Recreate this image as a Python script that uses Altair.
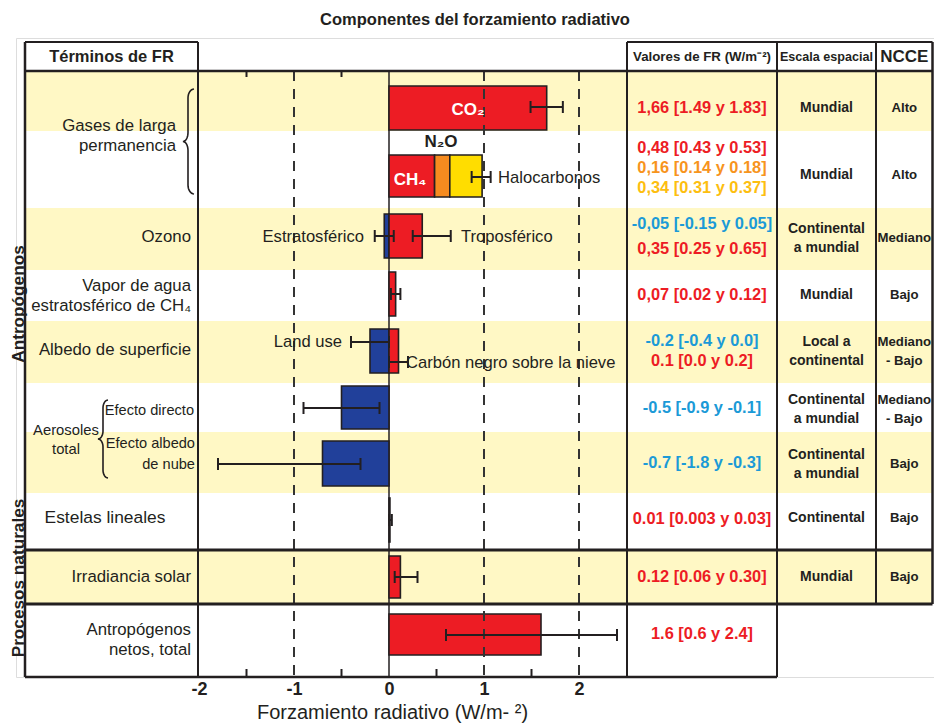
import math
import altair as alt
import pandas as pd

# ------------------------------------------------------------------ data
TITLE = "Componentes del forzamiento radiativo"
X_TITLE = "Forzamiento radiativo (W/m- ²)"
X_TICKS = [-2, -1, 0, 1, 2]
GRID_DASHED = [-1, 1, 2]
MINOR_TICKS_BOTTOM = [-1.5, -0.5, 0.5, 1.5]
MINOR_TICKS_TOP = [-1.5, -0.5]

HEADERS = ["Términos de FR", "Valores de FR (W/m⁻²)", "Escala espacial", "NCCE"]
GROUP_LABELS = ["Antropógenos", "Procesos naturales"]
TERMS = ["Gases de larga\npermanencia", "Ozono", "Vapor de agua\nestratosférico de CH₄",
         "Albedo de superficie", "Efecto directo", "Efecto albedo\nde nube",
         "Estelas lineales", "Irradiancia solar", "Antropógenos\nnetos, total"]
AEROSOL_LABEL = "Aerosoles\ntotal"

# bars (W/m2)
BAR_NAMES = ["CO₂", "CH₄", "N₂O", "Halocarbonos", "Estratosférico", "Troposférico",
             "Vapor de agua", "Land use", "Carbón negro sobre la nieve", "Efecto directo",
             "Efecto albedo de nube", "Estelas lineales", "Irradiancia solar", "Total neto"]
BAR_VALUES = [1.66, 0.48, 0.16, 0.34, -0.05, 0.35, 0.07, -0.2, 0.1, -0.5, -0.7, 0.01, 0.12, 1.6]
BAR_ROW = [1, 2, 2, 2, 3, 3, 4, 5, 5, 6, 7, 8, 9, 10]
BAR_KIND = ["red", "red", "orange", "yellow", "blue", "red", "red", "blue", "red", "blue",
            "blue", "red", "red", "red"]

# uncertainty ranges (W/m2)
ERR_NAMES = ["CO₂", "CH₄+N₂O+Halocarbonos", "Estratosférico", "Troposférico", "Vapor de agua",
             "Land use", "Carbón negro", "Efecto directo", "Efecto albedo de nube",
             "Estelas lineales", "Irradiancia solar", "Total neto"]
ERR_LOW = [1.49, 0.87, -0.15, 0.25, 0.02, -0.4, 0.0, -0.9, -1.8, 0.003, 0.06, 0.6]
ERR_HIGH = [1.83, 1.07, 0.05, 0.65, 0.12, 0.0, 0.2, -0.1, -0.3, 0.03, 0.30, 2.4]

# bar annotations
BAR_ANNOT_WHITE = ["CO₂", "CH₄"]
BAR_ANNOT_BOLD = ["N₂O"]
BAR_ANNOT_SIDE = ["Halocarbonos", "Estratosférico", "Troposférico", "Land use",
                  "Carbón negro sobre la nieve"]

# table columns
VALUE_TEXTS = [
    ["1,66 [1.49 y 1.83]"],
    ["0,48 [0.43 y 0.53]", "0,16 [0.14 y 0.18]", "0,34 [0.31 y 0.37]"],
    ["-0,05 [-0.15 y 0.05]", "0,35 [0.25 y 0.65]"],
    ["0,07 [0.02 y 0.12]"],
    ["-0.2 [-0.4 y 0.0]", "0.1 [0.0 y  0.2]"],
    ["-0.5 [-0.9 y -0.1]"],
    ["-0.7 [-1.8 y  -0.3]"],
    ["0.01 [0.003 y 0.03]"],
    ["0.12 [0.06 y 0.30]"],
    ["1.6 [0.6 y  2.4]"],
]
VALUE_KIND = [["red"], ["red", "orange", "gold"], ["blue", "red"], ["red"], ["blue", "red"],
              ["blue"], ["blue"], ["red"], ["red"], ["red"]]
SCALE_TEXTS = ["Mundial", "Mundial", "Continental\na mundial", "Mundial", "Local a\ncontinental",
               "Continental\na mundial", "Continental\na mundial", "Continental", "Mundial"]
NCCE_TEXTS = ["Alto", "Alto", "Mediano", "Bajo", "Mediano\n- Bajo", "Mediano\n- Bajo",
              "Bajo", "Bajo", "Bajo"]

# ------------------------------------------------------------------ styles / layout
BAR_FILL = {"red": "#ED1C24", "orange": "#F68B1F", "yellow": "#FFDD00", "blue": "#21409A"}
TXT_COL = {"red": "#ED1C24", "orange": "#F7941D", "gold": "#FDBE10", "blue": "#1B9AD7"}
INK = "#231F20"
BAND = "#FFF8C5"
FONT = "Liberation Sans"

PX0, PPU = 389.0, 95.0          # page pixel of 0 W/m2, pixels per W/m2
LEFT_PAD = 8
RIGHT_PX = 934                  # right edge of the drawing (page pixels)


def X(px):
    return (px - PX0) / PPU


XMIN, XMAX = X(8 + LEFT_PAD), X(RIGHT_PX)
YTOP, YBOT = 38, 677
W, H = RIGHT_PX - (8 + LEFT_PAD), YBOT - YTOP

# table column borders (page px)
C_LEFT, C_TERMS, C_PLOT_R, C_VAL_R, C_SCALE_R, C_RIGHT = 25, 198, 627, 777, 876, 932.5

ROWS = [(71, 131), (131, 208), (208, 270), (270, 321), (321, 383), (383, 432),
        (432, 493), (493, 550), (550, 604), (604, 677)]
YELLOW_ROWS = [1, 3, 5, 7, 9]
BAR_SPAN = {1: (86, 130), 2: (155, 197), 3: (214, 258), 4: (272, 316), 5: (329, 373),
            6: (386, 429), 7: (441, 486), 8: (498, 542), 9: (556, 598), 10: (614, 655)}
ERR_Y = [107, 177, 236, 236, 294, 342, 362, 408, 464, 520, 577, 635]
# (x, y, align, font size, line height)
TERM_POS = [(176, 136, "right", 16.8, 20), (191, 237, "right", 16.8, 20),
            (191, 296, "right", 16.8, 20), (191, 350, "right", 16.8, 20),
            (194, 411, "right", 14.6, 21), (195, 454, "right", 14.6, 21),
            (105, 518, "center", 17.4, 20), (191, 577, "right", 16.8, 20),
            (191, 640, "right", 16.8, 20)]
AEROSOL_POS = (66, 440, 14.8, 19)
VALUE_Y = [[108], [148, 168, 188], [224, 249], [295], [341, 361], [408], [463], [519],
           [577], [634]]
TABLE_Y = [108, 175, 238, 295, 351, 409, 464, 518, 577]
COL_X = {"terms": (C_LEFT + C_TERMS) / 2, "values": (C_PLOT_R + C_VAL_R) / 2,
         "scale": (C_VAL_R + C_SCALE_R) / 2, "ncce": (C_SCALE_R + C_RIGHT) / 2}
ANNOT_POS = {"CO₂": (468, 110, "center"), "CH₄": (410, 180, "center"),
             "N₂O": (441, 142, "center"), "Halocarbonos": (498, 178, "left"),
             "Estratosférico": (364, 237, "right"), "Troposférico": (461, 237, "left"),
             "Land use": (342, 342, "right"), "Carbón negro sobre la nieve": (406, 363, "left")}

xs = alt.Scale(domain=[XMIN, XMAX], nice=False, zero=False)
ys = alt.Scale(domain=[YTOP, YBOT], reverse=True, nice=False, zero=False)
xaxis = alt.Axis(values=X_TICKS, labelExpr="'' + datum.value", title=X_TITLE, ticks=False,
                 domain=False, grid=False, labelFontSize=18, labelFontWeight="bold",
                 labelColor=INK, labelPadding=3, labelFlush=False, titleFontSize=20,
                 titleFontWeight="normal", titleColor=INK, titleX=392 - (8 + LEFT_PAD),
                 titleY=35, titleBaseline="middle", titleAlign="center")


def ex(f):
    return alt.X(f"{f}:Q", scale=xs, axis=xaxis)


def ey(f):
    return alt.Y(f"{f}:Q", scale=ys, axis=None)


def first_y(text, center, lh):
    n = text.count("\n") + 1
    return center - (n - 1) * lh / 2


layers = []

# yellow bands
bands = pd.DataFrame([{"x0": X(C_LEFT), "x1": X(C_RIGHT), "y0": ROWS[r - 1][0],
                       "y1": ROWS[r - 1][1]} for r in YELLOW_ROWS])
layers.append(alt.Chart(bands).mark_rect(color=BAND).encode(
    x=ex("x0"), x2="x1", y=ey("y0"), y2="y1"))

# zero line
layers.append(alt.Chart(pd.DataFrame({"v": [0], "y0": [71], "y1": [677]})).mark_rule(
    color=INK, strokeWidth=1.5).encode(x=ex("v"), y=ey("y0"), y2="y1"))

# bars (stacked within each row, positives up from 0, negatives down from 0)
bar_rows = []
pos_acc, neg_acc = {}, {}
for name, v, r, k in zip(BAR_NAMES, BAR_VALUES, BAR_ROW, BAR_KIND):
    if v >= 0:
        s = pos_acc.get(r, 0.0)
        pos_acc[r] = s + v
    else:
        s = neg_acc.get(r, 0.0)
        neg_acc[r] = s + v
    bar_rows.append({"name": name, "start": s, "end": s + v, "fill": BAR_FILL[k],
                     "y0": BAR_SPAN[r][0], "y1": BAR_SPAN[r][1]})
bars = pd.DataFrame(bar_rows)
layers.append(alt.Chart(bars).mark_rect(stroke=INK, strokeWidth=1.6).encode(
    x=ex("start"), x2="end", y=ey("y0"), y2="y1",
    color=alt.Color("fill:N", scale=None), tooltip=["name:N"]))

# dashed grid lines (on top of bars)
layers.append(alt.Chart(pd.DataFrame({"v": GRID_DASHED, "y0": 71, "y1": 677})).mark_rule(
    color="#333333", strokeWidth=2, strokeDash=[10, 8]).encode(x=ex("v"), y=ey("y0"), y2="y1"))

# minor inner ticks
mt = pd.DataFrame([{"v": v, "y0": 669, "y1": 677} for v in MINOR_TICKS_BOTTOM] +
                  [{"v": v, "y0": 71, "y1": 77} for v in MINOR_TICKS_TOP])
layers.append(alt.Chart(mt).mark_rule(color=INK, strokeWidth=2).encode(
    x=ex("v"), y=ey("y0"), y2="y1"))

# error bars
err = pd.DataFrame({"name": ERR_NAMES, "lo": ERR_LOW, "hi": ERR_HIGH, "y": ERR_Y})
layers.append(alt.Chart(err).mark_rule(color=INK, strokeWidth=2).encode(
    x=ex("lo"), x2="hi", y=ey("y")))
caps = pd.DataFrame([{"v": v, "y0": y - 6, "y1": y + 6}
                     for lo, hi, y in zip(ERR_LOW, ERR_HIGH, ERR_Y) for v in (lo, hi)])
layers.append(alt.Chart(caps).mark_rule(color=INK, strokeWidth=2).encode(
    x=ex("v"), y=ey("y0"), y2="y1"))

# table frame
segs = [
    (C_LEFT, C_TERMS, 42, 42, 2), (C_PLOT_R, C_RIGHT, 42, 42, 2), (C_LEFT, C_RIGHT, 71, 71, 2.5),
    (C_LEFT, C_RIGHT, 550, 550, 3), (C_LEFT, C_RIGHT, 604, 604, 3),
    (C_LEFT, C_VAL_R, 677, 677, 2.5),
    (C_LEFT, C_LEFT, 42, 677, 2.5), (C_TERMS, C_TERMS, 42, 677, 2),
    (C_PLOT_R, C_PLOT_R, 42, 677, 2), (C_VAL_R, C_VAL_R, 42, 677, 2),
    (C_SCALE_R, C_SCALE_R, 42, 604, 2), (C_RIGHT, C_RIGHT, 42, 604, 2.5),
]
seg_df = pd.DataFrame([{"x0": X(a), "x1": X(b), "y0": c, "y1": d, "w": w}
                       for a, b, c, d, w in segs])
layers.append(alt.Chart(seg_df).mark_rule(color=INK).encode(
    x=ex("x0"), x2="x1", y=ey("y0"), y2="y1", strokeWidth=alt.StrokeWidth("w:Q", scale=None)))


# braces
def brace(bid, x_end, x_mid, x_tip, y0, y1, r):
    ym = (y0 + y1) / 2
    pts = []
    a1 = x_end - x_mid
    for i in range(9):
        t = math.radians(-90 - 90 * i / 8)
        pts.append((x_end + a1 * math.cos(t), y0 + r + r * math.sin(t)))
    a2 = x_mid - x_tip
    for i in range(9):
        t = math.radians(90 * i / 8)
        pts.append((x_tip + a2 * math.cos(t), ym - r + r * math.sin(t)))
    lower = [(px, 2 * ym - py) for px, py in reversed(pts)]
    pts = pts + lower[1:]
    return [{"b": bid, "i": i, "x": X(px), "y": py} for i, (px, py) in enumerate(pts)]


br = pd.DataFrame(brace("gases", 194, 188, 183, 89, 194, 9) +
                  brace("aer", 108, 103, 98, 400, 478, 8))
layers.append(alt.Chart(br).mark_line(color=INK, strokeWidth=1.6, interpolate="linear").encode(
    x=ex("x"), y=ey("y"), detail="b:N", order="i:Q"))


def text_layer(df, lh=20, **kw):
    df = df.copy()
    df["y"] = [first_y(t, y, lh) for t, y in zip(df["t"], df["y"])]
    base = dict(font=FONT, lineBreak="\n", baseline="middle", lineHeight=lh)
    base.update(kw)
    return alt.Chart(df).mark_text(**base).encode(
        x=ex("x"), y=ey("y"), text="t:N", color=alt.Color("c:N", scale=None))


# row-term labels (one layer per label so that each gets its own size)
for t, (px, py, a, fs, lh) in zip(TERMS, TERM_POS):
    df = pd.DataFrame([{"t": t, "x": X(px), "y": py, "c": INK}])
    layers.append(text_layer(df, lh=lh, align=a, fontSize=fs))
ax_, ay_, afs, alh = AEROSOL_POS
layers.append(text_layer(pd.DataFrame([{"t": AEROSOL_LABEL, "x": X(ax_), "y": ay_, "c": INK}]),
                         lh=alh, align="center", fontSize=afs))

# group labels (vertical)
grp = pd.DataFrame([{"t": GROUP_LABELS[0], "x": X(18.5), "y": 304, "c": INK},
                    {"t": GROUP_LABELS[1], "x": X(18.5), "y": 578, "c": INK}])
layers.append(text_layer(grp, align="center", angle=270, fontSize=17.2, fontWeight="bold"))

# headers
hdr = pd.DataFrame([{"t": HEADERS[0], "x": X(COL_X["terms"]), "y": 57, "c": INK}])
layers.append(text_layer(hdr, align="center", fontSize=16.5, fontWeight="bold"))
hdr2 = pd.DataFrame([{"t": HEADERS[1], "x": X(COL_X["values"]), "y": 57, "c": INK}])
layers.append(text_layer(hdr2, align="center", fontSize=13.3, fontWeight="bold"))
hdr2b = pd.DataFrame([{"t": HEADERS[2], "x": X(COL_X["scale"]), "y": 57, "c": INK}])
layers.append(text_layer(hdr2b, align="center", fontSize=12.6, fontWeight="bold"))
hdr3 = pd.DataFrame([{"t": HEADERS[3], "x": X(COL_X["ncce"]), "y": 57, "c": INK}])
layers.append(text_layer(hdr3, align="center", fontSize=17, fontWeight="bold"))

# bar annotations
ann_w = pd.DataFrame([{"t": t, "x": X(ANNOT_POS[t][0]), "y": ANNOT_POS[t][1], "c": "white"}
                      for t in BAR_ANNOT_WHITE])
layers.append(text_layer(ann_w, align="center", fontSize=17, fontWeight="bold"))
ann_b = pd.DataFrame([{"t": t, "x": X(ANNOT_POS[t][0]), "y": ANNOT_POS[t][1], "c": INK}
                      for t in BAR_ANNOT_BOLD])
layers.append(text_layer(ann_b, align="center", fontSize=17, fontWeight="bold"))
ann_s = pd.DataFrame([{"t": t, "x": X(ANNOT_POS[t][0]), "y": ANNOT_POS[t][1],
                       "a": ANNOT_POS[t][2], "c": INK} for t in BAR_ANNOT_SIDE])
for a in ["left", "right"]:
    layers.append(text_layer(ann_s[ann_s.a == a], align=a, fontSize=16.6))

# values column
vals = pd.DataFrame([{"t": t, "x": X(COL_X["values"]), "y": y, "c": TXT_COL[k]}
                     for ts, ks, ysr in zip(VALUE_TEXTS, VALUE_KIND, VALUE_Y)
                     for t, k, y in zip(ts, ks, ysr)])
layers.append(text_layer(vals, align="center", fontSize=16.4, fontWeight="bold"))

# scale and NCCE columns
sc = pd.DataFrame([{"t": t, "x": X(COL_X["scale"]), "y": y, "c": INK}
                   for t, y in zip(SCALE_TEXTS, TABLE_Y)])
layers.append(text_layer(sc, lh=19, align="center", fontSize=14, fontWeight="bold"))
nc = pd.DataFrame([{"t": t, "x": X(COL_X["ncce"]), "y": y, "c": INK}
                   for t, y in zip(NCCE_TEXTS, TABLE_Y)])
layers.append(text_layer(nc, lh=19, align="center", fontSize=13.2, fontWeight="bold"))

chart = alt.layer(*layers).properties(
    width=W, height=H,
    autosize=alt.AutoSizeParams(type="none"),
    padding={"left": LEFT_PAD, "right": 0, "top": 30, "bottom": 46},
    title=alt.Title(TITLE, fontSize=16.5, fontWeight="bold", anchor="middle", color=INK,
                    font=FONT, offset=10),
    background="white",
).configure_view(strokeWidth=0).configure(font=FONT)

chart.save("out.html", embed_options={"renderer": "svg", "actions": False})
